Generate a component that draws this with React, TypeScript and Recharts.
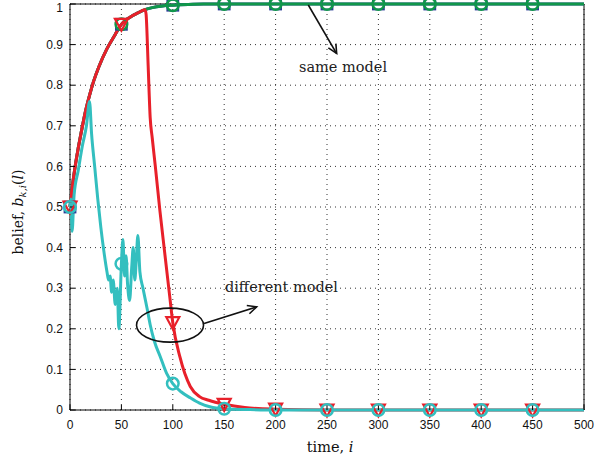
import React from "react";
import { LineChart, Line, XAxis, YAxis, CartesianGrid, ReferenceArea, ReferenceLine, ReferenceDot } from "recharts";

// time axis ticks and marker positions
const xTicks = [0, 50, 100, 150, 200, 250, 300, 350, 400, 450, 500];
const yTicks = [0, 0.1, 0.2, 0.3, 0.4, 0.5, 0.6, 0.7, 0.8, 0.9, 1];
const markX = [0, 50, 100, 150, 200, 250, 300, 350, 400, 450];

// same model (green / blue)
const sameX = [0, 2, 5, 8, 11, 15, 19, 23, 28, 36, 44, 50, 58, 66, 73, 80, 90, 100, 115, 130, 150, 200, 250, 300, 350, 400, 450, 500];
const sameY = [0.5, 0.545, 0.6, 0.645, 0.685, 0.735, 0.775, 0.81, 0.845, 0.89, 0.925, 0.95, 0.967, 0.978, 0.986, 0.991, 0.995, 0.997, 0.999, 1, 1, 1, 1, 1, 1, 1, 1, 1];

// different model (red)
const redX = [0, 2, 5, 8, 11, 15, 19, 23, 28, 36, 44, 50, 58, 66, 73, 74, 76, 78, 80, 83, 87.5, 92, 97, 100, 107, 117, 126, 135, 150, 170, 200, 250, 300, 350, 400, 450, 500];
const redY = [0.5, 0.545, 0.6, 0.645, 0.685, 0.735, 0.775, 0.81, 0.845, 0.89, 0.925, 0.95, 0.967, 0.978, 0.986, 0.975, 0.85, 0.72, 0.67, 0.6, 0.49, 0.39, 0.28, 0.215, 0.13, 0.058, 0.033, 0.024, 0.014, 0.006, 0.002, 0, 0, 0, 0, 0, 0];

// different model (teal, noisy)
const tealX = [0, 1, 2, 4, 8, 12, 16, 19, 21, 24, 27, 30, 33, 36, 37.5, 39, 40.5, 42, 44, 46, 47.5, 50, 51.5, 53, 54.5, 56, 58, 60, 61.5, 63, 64.5, 66, 68, 71, 75, 78, 82, 88, 94, 100, 108, 117, 126, 136, 150, 175, 200, 250, 300, 350, 400, 450, 500];
const tealY = [0.5, 0.52, 0.44, 0.53, 0.59, 0.65, 0.7, 0.76, 0.68, 0.6, 0.52, 0.45, 0.39, 0.34, 0.32, 0.33, 0.29, 0.32, 0.26, 0.3, 0.2, 0.36, 0.42, 0.33, 0.38, 0.31, 0.27, 0.35, 0.4, 0.32, 0.37, 0.43, 0.34, 0.3, 0.25, 0.21, 0.17, 0.13, 0.09, 0.065, 0.045, 0.03, 0.017, 0.008, 0.003, 0.001, 0, 0, 0, 0, 0, 0, 0];

const toRows = (xs: number[], ys: number[]) => xs.map((x, i) => ({ x, y: ys[i] }));
const sameRows = toRows(sameX, sameY);
const redRows = toRows(redX, redY);
const tealRows = toRows(tealX, tealY);

const RED = "#e8202a";
const TEAL = "#33bfbf";
const GREEN = "#10974a";
const BLUE = "#2b3c96";
const serif = "DejaVu Serif";

function makeDot(kind: string, color: string, marks: number[]) {
  return (p: any) => {
    const { cx, cy, payload, index } = p;
    if (!marks.includes(payload.x)) return <g key={index} />;
    if (kind === "tri")
      return <polygon key={index} points={`${cx - 6.5},${cy - 5.5} ${cx + 6.5},${cy - 5.5} ${cx},${cy + 6.5}`} fill="none" stroke={color} strokeWidth={2.2} />;
    if (kind === "sq")
      return <rect key={index} x={cx - 5.5} y={cy - 5.5} width={11} height={11} fill="none" stroke={color} strokeWidth={1.8} />;
    return <circle key={index} cx={cx} cy={cy} r={5.8} fill="none" stroke={color} strokeWidth={2.5} />;
  };
}

function arrow(p: any) {
  const { x1, y1, x2, y2 } = p;
  const a = Math.atan2(y2 - y1, x2 - x1);
  const L = 10;
  const w1 = `${x2 - L * Math.cos(a - 0.45)},${y2 - L * Math.sin(a - 0.45)}`;
  const w2 = `${x2 - L * Math.cos(a + 0.45)},${y2 - L * Math.sin(a + 0.45)}`;
  return (
    <g>
      <line x1={x1} y1={y1} x2={x2} y2={y2} stroke="#111" strokeWidth={1.6} />
      <polyline points={`${w1} ${x2},${y2} ${w2}`} fill="none" stroke="#111" strokeWidth={1.6} />
    </g>
  );
}

const noTick = () => <g />;

export default function App() {
  return (
    <div style={{ position: "absolute", left: 0, top: 0, background: "#fff" }}>
      <LineChart width={596} height={463} margin={{ top: 4, right: 12, bottom: 0, left: 0 }}>
        <CartesianGrid stroke="#333" strokeDasharray="1 4" />
        <XAxis
          dataKey="x"
          type="number"
          domain={[0, 500]}
          ticks={xTicks}
          height={53}
          allowDuplicatedCategory={false}
          axisLine={false}
          tickSize={-5}
          tickMargin={15}
          tickLine={{ stroke: "#000" }}
          tick={{ fill: "#111", fontSize: 12, fontFamily: "Liberation Sans" }}
          label={{
            content: () => (
              <text x={330} y={452} textAnchor="middle" fontFamily={serif} fontSize={14.5} fill="#111">
                time, <tspan fontStyle="italic">i</tspan>
              </text>
            ),
          }}
        />
        <XAxis xAxisId="top" orientation="top" type="number" domain={[0, 500]} ticks={xTicks} height={0} axisLine={false} tickSize={-5} tickLine={{ stroke: "#000" }} tick={noTick} />
        <YAxis
          type="number"
          domain={[0, 1]}
          ticks={yTicks}
          width={70}
          axisLine={false}
          tickSize={-5}
          tickMargin={12}
          tickLine={{ stroke: "#000" }}
          tick={{ fill: "#111", fontSize: 12, fontFamily: "Liberation Sans" }}
          label={{
            content: () => (
              <text x={23} y={212} transform="rotate(-90 23 212)" textAnchor="middle" fontFamily={serif} fontSize={14} fill="#111">
                belief, <tspan fontStyle="italic">b</tspan>
                <tspan fontStyle="italic" fontSize={10} dy={3}>k,i</tspan>
                <tspan dy={-3}>(</tspan>
                <tspan fontStyle="italic">l</tspan>)
              </text>
            ),
          }}
        />
        <YAxis yAxisId="right" orientation="right" type="number" domain={[0, 1]} ticks={yTicks} width={0} axisLine={false} tickSize={-5} tickLine={{ stroke: "#000" }} tick={noTick} />
        <ReferenceArea x1={0} x2={500} y1={0} y2={1} fill="none" stroke="#000" strokeWidth={1} ifOverflow="visible" />

        <Line data={sameRows} dataKey="y" type="monotone" stroke={BLUE} strokeWidth={3} dot={makeDot("sq", BLUE, markX)} isAnimationActive={false} />
        <Line data={sameRows} dataKey="y" type="monotone" stroke={GREEN} strokeWidth={3} dot={makeDot("circ", GREEN, markX.slice(1))} isAnimationActive={false} />
        <Line data={redRows} dataKey="y" type="monotone" stroke={RED} strokeWidth={3} dot={makeDot("tri", RED, markX)} isAnimationActive={false} />
        <Line data={tealRows} dataKey="y" type="monotone" stroke={TEAL} strokeWidth={3} dot={makeDot("circ", TEAL, markX)} isAnimationActive={false} />

        <ReferenceLine segment={[{ x: 231.8, y: 0.9975 }, { x: 259.4, y: 0.878 }]} shape={arrow} ifOverflow="visible" />
        <ReferenceDot
          x={265.6}
          y={0.845}
          ifOverflow="visible"
          shape={(p: any) => (
            <text x={p.cx} y={p.cy} dy={5} textAnchor="middle" fontFamily={serif} fontSize={14.5} fill="#222">
              same model
            </text>
          )}
        />
        <ReferenceDot
          x={97.3}
          y={0.209}
          ifOverflow="visible"
          shape={(p: any) => <ellipse cx={p.cx} cy={p.cy} rx={33.5} ry={17} fill="none" stroke="#111" strokeWidth={1.6} />}
        />
        <ReferenceLine segment={[{ x: 130.4, y: 0.213 }, { x: 181.6, y: 0.254 }]} shape={arrow} ifOverflow="visible" />
        <ReferenceDot
          x={205.7}
          y={0.304}
          ifOverflow="visible"
          shape={(p: any) => (
            <text x={p.cx} y={p.cy} dy={5} textAnchor="middle" fontFamily={serif} fontSize={14.5} fill="#222">
              different model
            </text>
          )}
        />
      </LineChart>
    </div>
  );
}
